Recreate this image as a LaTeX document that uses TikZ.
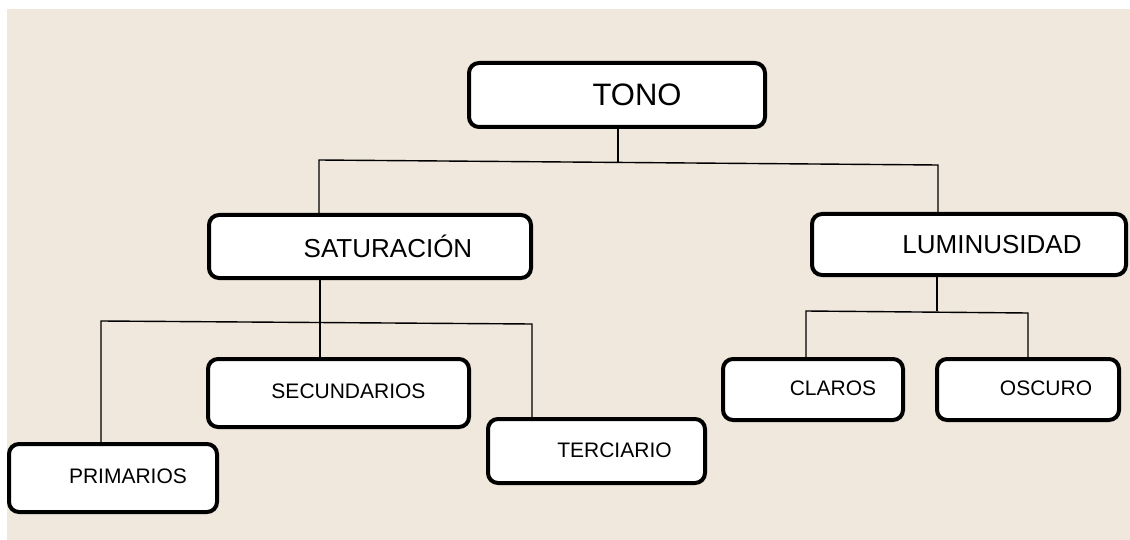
\documentclass[tikz,border=0pt]{standalone}
\usepackage{fontspec}
\setmainfont{Liberation Sans}
\definecolor{bgbeige}{RGB}{240,232,220}
\tikzset{
  boxnode/.style={draw=black, fill=white, line width=4pt, rounded corners=10pt, inner sep=0pt},
  conn/.style={draw=black, line width=1.4pt},
}
\begin{document}
\begin{tikzpicture}[x=1pt, y=-1pt]
\useasboundingbox (0,0) rectangle (1130,540);
\fill[bgbeige] (7,9) rectangle (1130,540);
% boxes
\node[boxnode, minimum width=296pt, minimum height=64pt] (tono) at (617,95)
  {\fontsize{31}{36}\selectfont\hspace*{40pt}\raisebox{-3pt}{TONO}};
\node[boxnode, minimum width=322pt, minimum height=63pt] (sat) at (370,246.5)
  {\fontsize{26}{30}\selectfont\hspace*{36pt}SATURACIÓN};
\node[boxnode, minimum width=314pt, minimum height=61pt] (lum) at (969,244.5)
  {\fontsize{26}{30}\selectfont\hspace*{46pt}LUMINUSIDAD};
\node[boxnode, minimum width=261pt, minimum height=68pt] (sec) at (338.5,393)
  {\fontsize{21}{25}\selectfont\hspace*{20pt}\raisebox{4pt}{SECUNDARIOS}};
\node[boxnode, minimum width=208pt, minimum height=68pt] (pri) at (113,478)
  {\fontsize{21}{25}\selectfont\hspace*{30pt}\raisebox{4pt}{PRIMARIOS}};
\node[boxnode, minimum width=217pt, minimum height=64pt] (ter) at (596.5,451)
  {\fontsize{21}{25}\selectfont\hspace*{36pt}\raisebox{2pt}{TERCIARIO}};
\node[boxnode, minimum width=180pt, minimum height=61pt] (cla) at (813,389.5)
  {\fontsize{21}{25}\selectfont\hspace*{40pt}\raisebox{2pt}{CLAROS}};
\node[boxnode, minimum width=182pt, minimum height=61pt] (osc) at (1028,389.5)
  {\fontsize{21}{25}\selectfont\hspace*{36pt}\raisebox{2pt}{OSCURO}};
% junction coordinates
\coordinate (t1) at (618,163);
\coordinate (b1L) at (319,160);
\coordinate (b1R) at (938,165);
\coordinate (s1) at (320,321);
\coordinate (b2L) at (101,321);
\coordinate (b2R) at (532,324);
\coordinate (l1) at (937,311);
\coordinate (b3L) at (806,311);
\coordinate (b3R) at (1028,313);
% connectors
\draw[conn] (tono.south -| t1) -- (t1);
\draw[conn] (sat.north -| b1L) -- (b1L) -- (b1R) -- (lum.north -| b1R);
\draw[conn] (sat.south -| s1) -- (s1);
\draw[conn] (pri.north -| b2L) -- (b2L) -- (b2R) -- (ter.north -| b2R);
\draw[conn] (s1) -- (sec.north -| s1);
\draw[conn] (lum.south -| l1) -- (l1);
\draw[conn] (cla.north -| b3L) -- (b3L) -- (b3R) -- (osc.north -| b3R);
\end{tikzpicture}
\end{document}
